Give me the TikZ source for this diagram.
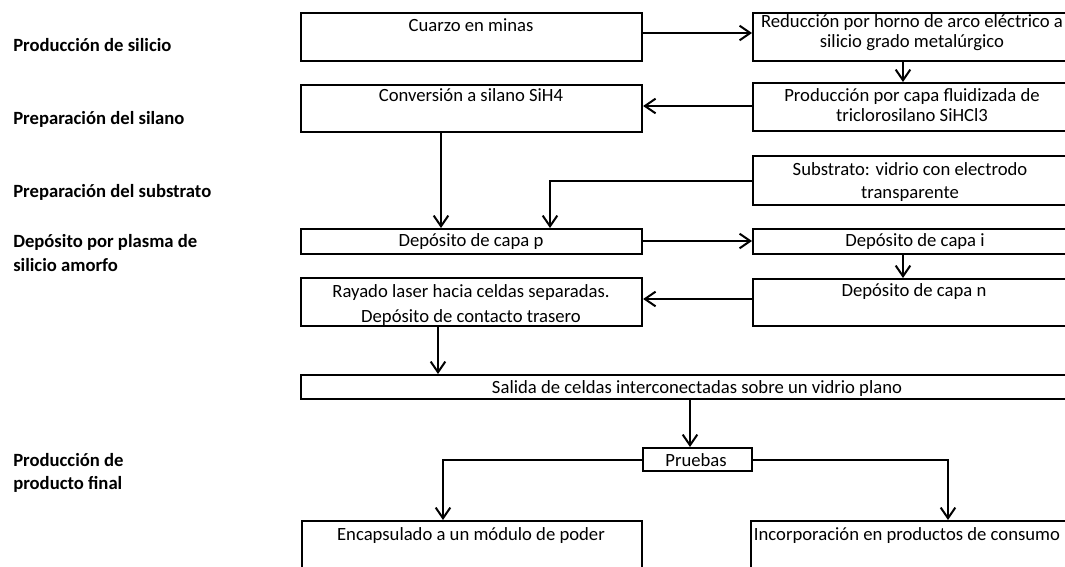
\documentclass[tikz,border=0pt]{standalone}
\usepackage{fontspec}
\setmainfont{Carlito}
\usetikzlibrary{arrows.meta}
\begin{document}
\begin{tikzpicture}[x=0.75pt,y=-0.75pt,
  flowbox/.style={draw, line width=1.6pt, inner sep=0pt, anchor=north west},
  txt/.style={inner sep=0pt, anchor=base, align=center, font=\fontsize{14}{15}\selectfont},
  stage/.style={inner sep=0pt, anchor=base west, align=left, font=\fontsize{14}{18}\selectfont\bfseries},
  arr/.style={line width=1.5pt, -{Straight Barb[length=8pt,width=11pt,line width=1.5pt]}},
]
\fill[white] (0,0) rectangle (1065,567);
\useasboundingbox (0,0) rectangle (1065,567);
\clip (0,0) rectangle (1065,567);

% stage labels on the left (base = last line)
\node[stage] (l1) at (13,52) {Producción de silicio};
\node[stage] (l2) at (13,125) {Preparación del silano};
\node[stage] (l3) at (13,197) {Preparación del substrato};
\node[stage] (l4) at (13,271) {Depósito por plasma de\\silicio amorfo};
\node[stage, font=\fontsize{14}{17.25}\selectfont\bfseries] (l5) at (13,489) {Producción de\\producto final};

% process boxes
\node[flowbox, minimum width={341*0.75pt}, minimum height={48*0.75pt}] (A) at (300,12) {};
\node[flowbox, minimum width={316*0.75pt}, minimum height={48*0.75pt}] (B) at (752,12) {};
\node[flowbox, minimum width={316*0.75pt}, minimum height={48*0.75pt}] (C) at (752,82) {};
\node[flowbox, minimum width={341*0.75pt}, minimum height={47*0.75pt}] (D) at (300,84) {};
\node[flowbox, minimum width={316*0.75pt}, minimum height={49*0.75pt}] (E) at (752,155) {};
\node[flowbox, minimum width={341*0.75pt}, minimum height={25*0.75pt}] (P) at (300,228) {};
\node[flowbox, minimum width={316*0.75pt}, minimum height={25*0.75pt}] (I) at (752,228) {};
\node[flowbox, minimum width={316*0.75pt}, minimum height={47*0.75pt}] (N) at (752,278) {};
\node[flowbox, minimum width={341*0.75pt}, minimum height={48*0.75pt}] (R) at (300,277) {};
\node[flowbox, minimum width={794*0.75pt}, minimum height={24*0.75pt}] (S) at (300,374) {};
\node[flowbox, minimum width={109*0.75pt}, minimum height={23*0.75pt}] (T) at (642,447) {};
\node[flowbox, minimum width={340*0.75pt}, minimum height={80*0.75pt}] (F) at (301,520) {};
\node[flowbox, minimum width={318*0.75pt}, minimum height={80*0.75pt}] (G) at (750,520) {};

% box texts (base = last line)
\node[txt] (tA) at (471,32) {Cuarzo en minas};
\node[txt] (tB) at (912,48) {Reducción por horno de arco eléctrico a\\silicio grado metalúrgico};
\node[txt] (tC) at (912,122) {Producción por capa fluidizada de\\triclorosilano SiHCl3};
\node[txt] (tD) at (471,102) {Conversión a silano SiH4};
\node[txt, font=\fontsize{14}{17.25}\selectfont] (tE) at (910,199) {Substrato: vidrio con electrodo\\transparente};
\node[txt] (tP) at (471,246) {Depósito de capa p};
\node[txt] (tI) at (915,246) {Depósito de capa i};
\node[txt] (tN) at (914,296) {Depósito de capa n};
\node[txt, font=\fontsize{14}{18.75}\selectfont] (tR) at (471,322) {Rayado laser hacia celdas separadas.\\Depósito de contacto trasero};
\node[txt] (tS) at (697,393) {Salida de celdas interconectadas sobre un vidrio plano};
\node[txt] (tT) at (696,466) {Pruebas};
\node[txt] (tF) at (471,540) {Encapsulado a un módulo de poder};
\node[txt] (tG) at (907,540) {Incorporación en productos de consumo};

% connector guide coordinates
\coordinate (yAB) at (0,33);
\coordinate (xBC) at (903,0);
\coordinate (yCD) at (0,106);
\coordinate (xDP) at (441,0);
\coordinate (yEP) at (0,181);
\coordinate (xEP) at (550,0);
\coordinate (yPI) at (0,241);
\coordinate (yNR) at (0,299);
\coordinate (xRS) at (438,0);
\coordinate (xST) at (690,0);
\coordinate (xTF) at (443,0);
\coordinate (xTG) at (948,0);

% connectors
\draw[arr] (A.east |- yAB) -- (B.west |- yAB);
\draw[arr] (B.south -| xBC) -- (C.north -| xBC);
\draw[arr] (C.west |- yCD) -- (D.east |- yCD);
\draw[arr] (D.south -| xDP) -- (P.north -| xDP);
\draw[arr] (E.west |- yEP) -| (P.north -| xEP);
\draw[arr] (P.east |- yPI) -- (I.west |- yPI);
\draw[arr] (I.south -| xBC) -- (N.north -| xBC);
\draw[arr] (N.west |- yNR) -- (R.east |- yNR);
\draw[arr] (R.south -| xRS) -- (S.north -| xRS);
\draw[arr] (S.south -| xST) -- (T.north -| xST);
\draw[arr] (T.west) -| (F.north -| xTF);
\draw[arr] (T.east) -| (G.north -| xTG);
\end{tikzpicture}
\end{document}
